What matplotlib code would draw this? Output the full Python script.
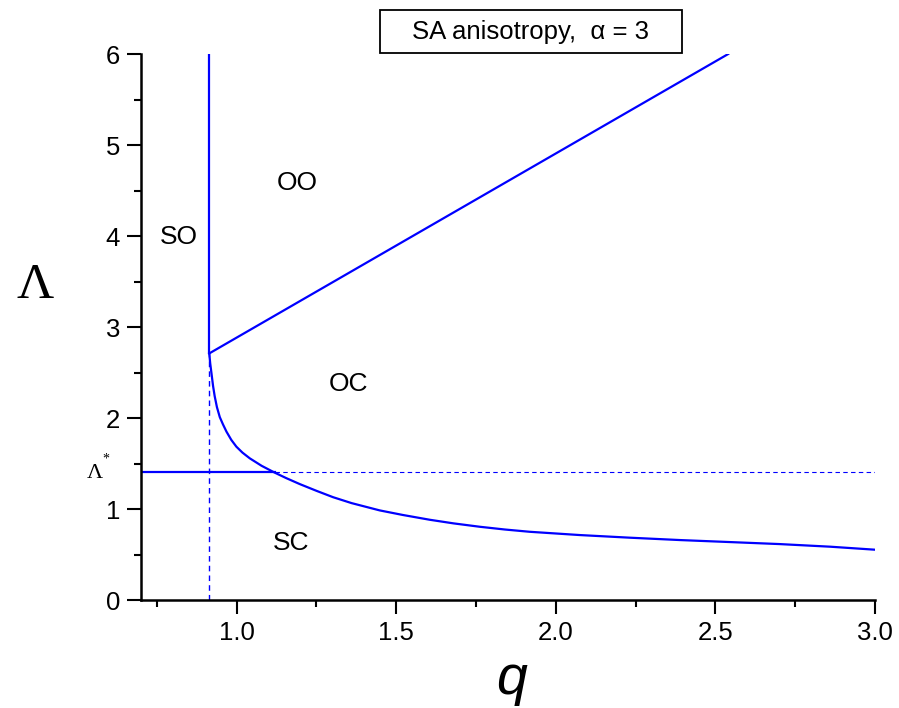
import matplotlib.pyplot as plt
from matplotlib.patches import Rectangle
from matplotlib.ticker import MultipleLocator

# phase boundaries
q_c = 0.914          # vertical boundary SO | OO
lam_c = 2.71         # cusp
lam_star = 1.41      # Lambda*
q_star = 1.119       # where the curve crosses Lambda*

# straight line OO | OC
q_line = [0.914, 2.54]
lam_line = [2.71, 6.0]

# curve OC | SC
q_curve = [0.914, 0.917, 0.921, 0.926, 0.931, 0.938, 0.947, 0.957, 0.968, 0.983,
           0.999, 1.018, 1.041, 1.078, 1.119, 1.155, 1.197, 1.25, 1.302, 1.36,
           1.448, 1.52, 1.605, 1.68, 1.762, 1.84, 1.918, 2.075, 2.232, 2.389,
           2.545, 2.70, 2.86, 3.00]
lam_curve = [2.71, 2.60, 2.49, 2.35, 2.24, 2.12, 2.01, 1.93, 1.85, 1.76,
             1.685, 1.62, 1.557, 1.475, 1.40, 1.34, 1.275, 1.20, 1.13, 1.065,
             0.985, 0.935, 0.882, 0.842, 0.805, 0.775, 0.75, 0.714, 0.685, 0.659,
             0.637, 0.615, 0.586, 0.553]

region_labels = ["SO", "OO", "OC", "SC"]
region_q = [0.82, 1.19, 1.35, 1.17]
region_lam = [3.99, 4.58, 2.37, 0.63]

blue = "#0000ff"
plt.rcParams["font.family"] = ["Liberation Sans", "DejaVu Sans"]

fig = plt.figure(figsize=(8.99, 7.08), dpi=100)
ax = fig.add_axes([0.1568, 0.1525, 0.8165, 0.7712])

ax.plot([q_c, q_c], [lam_c, 6.0], color=blue, lw=1.6)
ax.plot([q_c, q_c], [0, lam_c], color=blue, lw=1, ls=(0, (4, 3)))
ax.plot(q_line, lam_line, color=blue, lw=1.6)
ax.plot(q_curve, lam_curve, color=blue, lw=1.6)
ax.plot([0.7, q_star], [lam_star, lam_star], color=blue, lw=1.6)
ax.plot([q_star, 3.0], [lam_star, lam_star], color=blue, lw=0.8, ls=(0, (4, 3)))

for t, x, y in zip(region_labels, region_q, region_lam):
    ax.text(x, y, t, fontsize=19, ha="center", va="center")

ax.set_xlim(0.7, 3.0)
ax.set_ylim(0, 6)
ax.xaxis.set_minor_locator(MultipleLocator(0.25))
ax.yaxis.set_major_locator(MultipleLocator(1))
ax.yaxis.set_minor_locator(MultipleLocator(0.5))
ax.set_xticks([1.0, 1.5, 2.0, 2.5, 3.0])
ax.set_xticklabels(["1.0", "1.5", "2.0", "2.5", "3.0"])
ax.tick_params(which="major", direction="out", length=10, width=1.5, labelsize=18.5, pad=5)
ax.tick_params(which="minor", direction="out", length=5, width=1.5)
for s in ["top", "right"]:
    ax.spines[s].set_visible(False)
for s in ["left", "bottom"]:
    ax.spines[s].set_linewidth(1.8)

# axis titles
fig.text(512 / 899, 1 - 694 / 708, "q", fontsize=40, style="italic", ha="center", va="baseline")
fig.text(35 / 899, 1 - 286 / 708, "Λ", fontsize=37, family="Liberation Serif",
         ha="center", va="center")
fig.text(95 / 899, 1 - 473 / 708, "Λ", fontsize=16, family="Liberation Serif",
         ha="center", va="center")
fig.text(106 / 899, 1 - 459 / 708, "*", fontsize=10, family="Liberation Serif",
         ha="center", va="center")

# title box
fig.patches.append(Rectangle((380 / 899, 1 - 53 / 708), 302 / 899, 43 / 708,
                             transform=fig.transFigure, fc="white", ec="black", lw=1.3))
fig.text(531 / 899, 1 - 32 / 708, "SA anisotropy,  α = 3", fontsize=18.5,
         ha="center", va="center")

fig.savefig("out.png", dpi=100)
